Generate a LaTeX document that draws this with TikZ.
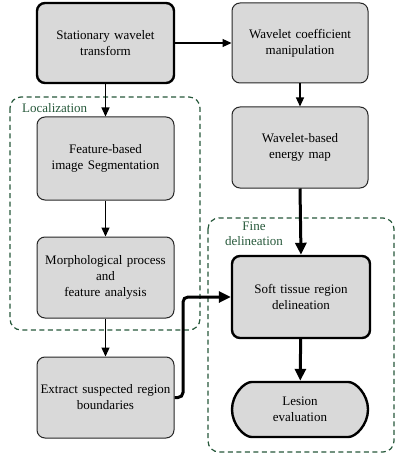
\documentclass[tikz,border=0pt]{standalone}
\usepackage{fontspec}
\setmainfont{Liberation Serif}
\newfontfamily\tmsfont{Liberation Serif}
\usetikzlibrary{arrows.meta,shapes.misc}
\definecolor{boxfill}{RGB}{217,217,217}
\definecolor{grp}{RGB}{38,88,58}
\begin{document}
\begin{tikzpicture}[x=1pt,y=-1pt,
  font=\tmsfont\fontsize{13}{16}\selectfont,
  box/.style={draw=black!85,line width=1pt,fill=boxfill,rounded corners=8pt,
    align=center,inner sep=0pt,text width=#1},
  box/.default=130pt,
  bold/.style={line width=2.4pt,draw=black},
  thin/.style={line width=1.2pt,-{Triangle[length=9pt,width=8pt]}},
  thick/.style={line width=3pt,-{Triangle[length=12pt,width=11pt]}},
  grpbox/.style={draw=grp,line width=1.2pt,dash pattern=on 5pt off 3.5pt,rounded corners=11pt},
  grplabel/.style={text=grp,align=center,inner sep=0pt}
]
\useasboundingbox (0,0) rectangle (395,454);
% group frames
\draw[grpbox] (10,97) rectangle (200,330);
\draw[grpbox] (208,218) rectangle (394,452);
\node[grplabel,anchor=west] (loclab) at (22,108) {Localization};
\node[grplabel,font=\tmsfont\fontsize{13}{15}\selectfont] (finelab) at (254,234) {Fine\\delineation};
% boxes
\node[box,bold,minimum width=137pt,minimum height=80pt] (swt) at (105.5,43) {Stationary wavelet\\transform};
\node[box,minimum width=136pt,minimum height=80pt] (wcm) at (300,43) {Wavelet coefficient\\manipulation};
\node[box,minimum width=136pt,minimum height=81pt] (wem) at (300,147.5) {Wavelet-based\\energy map};
\node[box,minimum width=137pt,minimum height=83pt] (fbs) at (105.5,158.5) {Feature-based\\image Segmentation};
\node[box,minimum width=137pt,minimum height=81pt] (mor) at (105.5,277.5) {Morphological process\\and\\feature analysis};
\node[box,minimum width=137pt,minimum height=81pt] (ext) at (105.5,397.5) {Extract suspected region\\boundaries};
\node[box,bold,minimum width=138pt,minimum height=82pt] (str) at (301,297) {Soft tissue region\\delineation};
\node[box,bold,rounded rectangle,minimum width=136pt,minimum height=55pt] (les) at (300,409.5) {Lesion\\evaluation};
% connectors
\draw[thin] (swt) -- (wcm);
\draw[thin] (swt) -- (fbs);
\draw[thin] (wcm) -- (wem);
\draw[thin] (fbs) -- (mor);
\draw[thin] (mor) -- (ext);
\draw[thick] (wem.south) -- (str.north);
\draw[thick] (str) -- (les);
\draw[line width=3pt,rounded corners=5pt,-{Triangle[length=12pt,width=11pt]}] (ext.east) -- ++(8.5,0) |- (str.west);
\end{tikzpicture}
\end{document}
